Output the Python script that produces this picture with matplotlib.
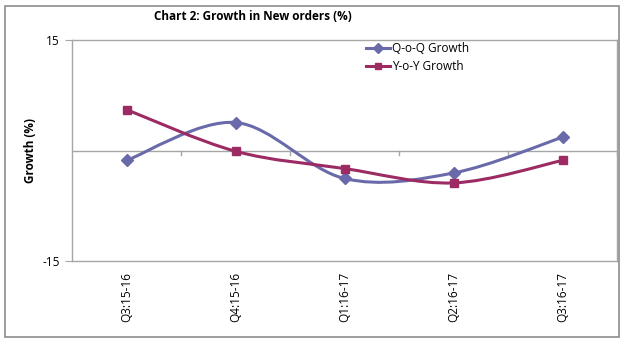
import numpy as np
import matplotlib.pyplot as plt
from matplotlib.path import Path
from matplotlib.patches import PathPatch, Rectangle
from matplotlib.lines import Line2D

plt.rcParams['font.family'] = ['Open Sans', 'DejaVu Sans']

quarters = ["Q3:15-16", "Q4:15-16", "Q1:16-17", "Q2:16-17", "Q3:16-17"]
qoq_growth = [-1.35, 3.8, -3.8, -3.05, 1.8]
yoy_growth = [5.55, -0.1, -2.45, -4.4, -1.35]

QOQ_COLOR = "#6A6AAA"
YOY_COLOR = "#9C2B63"
GRID = "#A6A6A6"


def smooth_path(x, y):
    # Catmull-Rom style cubic Bezier through every point (like Excel's smoothed line)
    pts = np.column_stack([x, y]).astype(float)
    ext = np.vstack([pts[0], pts, pts[-1]])
    verts = [pts[0]]
    codes = [Path.MOVETO]
    for i in range(1, len(ext) - 2):
        p0, p1, p2, p3 = ext[i - 1], ext[i], ext[i + 1], ext[i + 2]
        verts += [p1 + (p2 - p0) / 6, p2 - (p3 - p1) / 6, p2]
        codes += [Path.CURVE4] * 3
    return Path(verts, codes)


fig = plt.figure(figsize=(6.25, 3.42), dpi=100)
fig.patches.append(Rectangle((5 / 625, 5 / 342), 614 / 625, 331 / 342,
                             transform=fig.transFigure, fill=False,
                             edgecolor="#8C8C8C", linewidth=1.2))

ax = fig.add_axes([72 / 625, 81 / 342, 545 / 625, 221 / 342])
x = np.arange(len(quarters))

for vals, color, marker, ms, label in [
        (qoq_growth, QOQ_COLOR, "D", 6, "Q-o-Q Growth"),
        (yoy_growth, YOY_COLOR, "s", 6, "Y-o-Y Growth")]:
    ax.add_patch(PathPatch(smooth_path(x, vals), facecolor="none",
                           edgecolor=color, linewidth=2.2, zorder=3))
    ax.plot(x, vals, linestyle="none", marker=marker, markersize=ms,
            color=color, zorder=4, label=label)

ax.set_xlim(-0.5, len(quarters) - 0.5)
ax.set_ylim(-15, 15)

# category axis crossing at zero, with ticks between categories
ax.axhline(0, color=GRID, linewidth=1, zorder=1)
for b in np.arange(0.5, len(quarters), 1.0):
    ax.plot([b, b], [0, -0.6], color=GRID, linewidth=1, zorder=1)

ax.set_yticks([-15, 15])
ax.set_yticklabels(["-15", "15"], fontsize=8.5)
ax.tick_params(axis="y", length=5, color=GRID, pad=4)
ax.set_xticks(x)
ax.set_xticklabels(quarters, rotation=90, fontsize=8.5)
ax.tick_params(axis="x", length=0, pad=8)
for s in ax.spines.values():
    s.set_color(GRID)
    s.set_linewidth(1)

ax.set_ylabel("Growth (%)", fontsize=8.5, fontweight="bold", labelpad=4)
fig.text(253 / 625, 1 - 17 / 342, "Chart 2: Growth in New orders (%)",
         ha="center", va="center", fontsize=8.5, fontweight="bold")

handles = [Line2D([0], [0], color=QOQ_COLOR, linewidth=2.2, marker="D", markersize=5),
           Line2D([0], [0], color=YOY_COLOR, linewidth=2.2, marker="s", markersize=5)]
ax.legend(handles, ["Q-o-Q Growth", "Y-o-Y Growth"], loc="upper left",
          bbox_to_anchor=(0.52, 1.04), frameon=False, fontsize=8.5,
          handlelength=2.0, handletextpad=0.2, labelspacing=0.45)

fig.savefig("out.png", dpi=100)
